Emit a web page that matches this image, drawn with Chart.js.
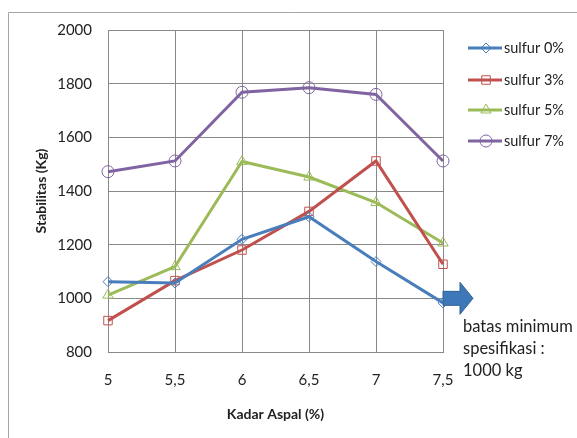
<!DOCTYPE html>
<html>
<head>
<meta charset="utf-8">
<script src="https://cdn.jsdelivr.net/npm/chart.js@4/dist/chart.umd.min.js"></script>
<style>
  body { margin: 0; background: #fff; }
  canvas { display: block; }
</style>
</head>
<body>
<canvas id="grafik-stabilitas" width="577" height="438"></canvas>
<script>
// data
const kadarAspal = ["5", "5,5", "6", "6,5", "7", "7,5"];
const sulfur0 = [1062, 1057, 1220, 1304, 1137, 983];
const sulfur3 = [917, 1066, 1180, 1324, 1512, 1127];
const sulfur5 = [1012, 1118, 1510, 1452, 1357, 1206];
const sulfur7 = [1472, 1512, 1768, 1785, 1760, 1512];
const tickY = [800, 1000, 1200, 1400, 1600, 1800, 2000];
const batasMinimum = 1000;

const namaSeri = ["sulfur 0%", "sulfur 3%", "sulfur 5%", "sulfur 7%"];
const warnaSeri = ["#4a7ebb", "#c0504d", "#9bbb59", "#8064a2"];
const bentukTitik = ["rectRot", "rect", "triangle", "circle"];
const ukuranTitik = [5, 6, 6, 6];

const FONT = "Lato, 'Open Sans', sans-serif";

function buatSeri(i, data) {
    return {
        label: namaSeri[i],
        data: data,
        borderColor: warnaSeri[i],
        borderWidth: 3,
        pointStyle: bentukTitik[i],
        pointRadius: ukuranTitik[i],
        pointBorderWidth: 1,
        pointBorderColor: warnaSeri[i],
        pointBackgroundColor: "rgba(0,0,0,0)",
        tension: 0
    };
}

/* =========================
   LEGENDA, PANAH, BINGKAI
   ========================= */
const hiasanGrafik = {
    id: "hiasanGrafik",
    afterDraw(chart) {
        const ctx = chart.ctx;
        ctx.save();

        // bingkai luar
        ctx.strokeStyle = "#a6a6a6";
        ctx.lineWidth = 1;
        ctx.beginPath();
        ctx.moveTo(8.5, 438);
        ctx.lineTo(8.5, 12.5);
        ctx.lineTo(577, 12.5);
        ctx.stroke();

        // legenda
        const posisiY = [48, 80, 110, 141];
        namaSeri.forEach((nama, i) => {
            const y = posisiY[i];
            ctx.strokeStyle = warnaSeri[i];
            ctx.lineWidth = 3;
            ctx.beginPath();
            ctx.moveTo(468, y);
            ctx.lineTo(502, y);
            ctx.stroke();
            ctx.lineWidth = 1;
            ctx.fillStyle = "rgba(255,255,255,0)";
            ctx.strokeStyle = warnaSeri[i];
            Chart.helpers.drawPoint(ctx, {
                pointStyle: bentukTitik[i],
                radius: ukuranTitik[i],
                borderWidth: 1
            }, 486, y);
            ctx.fillStyle = "#222";
            ctx.font = "14.5px " + FONT;
            ctx.textAlign = "left";
            ctx.textBaseline = "middle";
            ctx.fillText(nama, 504, y);
        });

        // panah batas minimum
        const yBatas = chart.scales.y.getPixelForValue(batasMinimum);
        const xAwal = chart.chartArea.right;
        ctx.fillStyle = "#3f78b8";
        ctx.strokeStyle = "#2f5f96";
        ctx.lineWidth = 1;
        ctx.beginPath();
        ctx.moveTo(xAwal, yBatas - 7);
        ctx.lineTo(xAwal + 17, yBatas - 7);
        ctx.lineTo(xAwal + 17, yBatas - 16);
        ctx.lineTo(xAwal + 30, yBatas);
        ctx.lineTo(xAwal + 17, yBatas + 16);
        ctx.lineTo(xAwal + 17, yBatas + 7);
        ctx.lineTo(xAwal, yBatas + 7);
        ctx.closePath();
        ctx.fill();
        ctx.stroke();

        ctx.fillStyle = "#222";
        ctx.font = "16.5px " + FONT;
        ctx.textAlign = "left";
        ctx.textBaseline = "middle";
        ctx.fillText("batas minimum", 463, 327);
        ctx.fillText("spesifikasi :", 463, 349);
        ctx.fillText("1000 kg", 463, 371);

        ctx.restore();
    }
};

const contextoGrafico = document.getElementById("grafik-stabilitas").getContext("2d");

new Chart(contextoGrafico, {
    type: "line",
    data: {
        labels: kadarAspal,
        datasets: [
            buatSeri(0, sulfur0),
            buatSeri(1, sulfur3),
            buatSeri(2, sulfur5),
            buatSeri(3, sulfur7)
        ]
    },
    options: {
        responsive: false,
        animation: false,
        devicePixelRatio: 1,
        layout: { padding: { top: 30, right: 134, left: 30, bottom: 11 } },
        plugins: {
            legend: { display: false },
            tooltip: { enabled: false }
        },
        scales: {
            x: {
                offset: false,
                grid: { color: "#888", lineWidth: 1, drawTicks: false },
                border: { color: "#888" },
                ticks: {
                    color: "#222",
                    font: { family: FONT, size: 15 },
                    padding: 19,
                    maxRotation: 0
                },
                title: {
                    display: true,
                    text: "Kadar Aspal (%)",
                    color: "#222",
                    font: { family: FONT, size: 14, weight: "bold" },
                    padding: { top: 2 }
                },
                afterFit(scale) { scale.height = 75; }
            },
            y: {
                min: 800,
                max: 2000,
                afterBuildTicks(scale) {
                    scale.ticks = tickY.map(v => ({ value: v }));
                },
                grid: { color: "#888", lineWidth: 1, drawTicks: false },
                border: { color: "#888" },
                ticks: {
                    color: "#222",
                    font: { family: FONT, size: 15 },
                    padding: 16,
                    callback: v => String(v)
                },
                title: {
                    display: true,
                    text: "Stabilitas (Kg)",
                    color: "#222",
                    font: { family: FONT, size: 14, weight: "bold" },
                    padding: { top: 3 }
                },
                afterFit(scale) { scale.width = 78; }
            }
        }
    },
    plugins: [hiasanGrafik]
});
</script>
</body>
</html>
